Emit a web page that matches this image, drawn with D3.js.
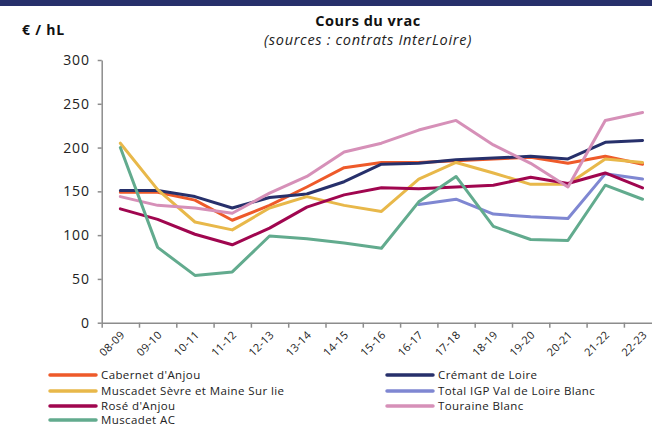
<!DOCTYPE html>
<html>
<head>
<meta charset="utf-8">
<script src="https://cdn.jsdelivr.net/npm/d3@7"></script>
<style>
  body { margin: 0; background: #fff; }
  svg { display: block; font-family: "Open Sans", sans-serif; }
</style>
</head>
<body>
<svg id="chart"></svg>
<script>
// categories (campaigns)
var campaigns = ["08-09","09-10","10-11","11-12","12-13","13-14","14-15","15-16","16-17","17-18","18-19","19-20","20-21","21-22","22-23"];

// series values, €/hL
var cabernetAnjou   = [149, 149, 140, 117, 134, 155, 177, 183, 183, 185, 187, 189, 182, 190, 181];
var cremantLoire    = [151, 151, 144, 131, 143, 147, 161, 181, 182, 186, 188, 190, 187, 206, 208];
var muscadetSevre   = [205, 152, 115, 106, 131, 144, 134, 127, 164, 183, 171, 158, 158, 187, 183];
var totalIgpBlanc   = [null, null, null, null, null, null, null, null, 135, 141, 124, 121, 119, 170, 164];
var roseAnjou       = [130, 118, 101, 89, 108, 132, 146, 154, 153, 155, 157, 166, 159, 171, 154];
var touraineBlanc   = [144, 134, 131, 125, 148, 167, 195, 205, 220, 231, 203, 182, 155, 231, 240];
var muscadetAC      = [200, 86, 54, 58, 99, 96, 91, 85, 138, 167, 110, 95, 94, 157, 141];

var seriesNames  = ["Cabernet d'Anjou", "Crémant de Loire", "Muscadet Sèvre et Maine Sur lie", "Total IGP Val de Loire Blanc", "Rosé d'Anjou", "Touraine Blanc", "Muscadet AC"];
var seriesValues = [cabernetAnjou, cremantLoire, muscadetSevre, totalIgpBlanc, roseAnjou, touraineBlanc, muscadetAC];
var seriesColors = ["#ee5a2a", "#27306b", "#e8b84a", "#7f87d2", "#a0064f", "#d690b8", "#62ab8e"];

var yTicks = [0, 50, 100, 150, 200, 250, 300];

var width = 652, height = 428;
var plot = { left: 101.7, right: 661.2, top: 60, bottom: 322.7 };

var svg = d3.select("#chart")
  .attr("width", width)
  .attr("height", height);

// top banner
svg.append("rect")
  .attr("x", 0).attr("y", 0)
  .attr("width", width).attr("height", 6)
  .attr("fill", "#27306b");

// titles
svg.append("text")
  .attr("x", 368).attr("y", 26)
  .attr("text-anchor", "middle")
  .attr("font-weight", "bold")
  .attr("font-size", 14.5)
  .attr("letter-spacing", 0.5)
  .attr("fill", "#111")
  .text("Cours du vrac");

svg.append("text")
  .attr("x", 368).attr("y", 45)
  .attr("text-anchor", "middle")
  .attr("font-style", "italic")
  .attr("font-size", 14.5)
  .attr("letter-spacing", 0.7)
  .attr("fill", "#222")
  .text("(sources : contrats InterLoire)");

svg.append("text")
  .attr("x", 22).attr("y", 35)
  .attr("font-weight", "bold")
  .attr("font-size", 14)
  .attr("letter-spacing", 0.8)
  .attr("fill", "#111")
  .text("€ / hL");

// scales
var x = d3.scaleBand()
  .domain(campaigns)
  .range([plot.left, plot.right])
  .padding(0);

var xEdges = d3.scaleLinear()
  .domain([0, campaigns.length])
  .range([plot.left, plot.right]);

var y = d3.scaleLinear()
  .domain([0, 300])
  .range([plot.bottom, plot.top]);

// y axis
var yAxis = svg.append("g")
  .attr("transform", "translate(" + plot.left + ",0)")
  .call(d3.axisLeft(y).tickValues(yTicks).tickSize(4).tickPadding(8).tickSizeOuter(0));
yAxis.select(".domain").attr("stroke", "#8c8c8c").attr("stroke-width", 1.5);
yAxis.selectAll(".tick line").attr("stroke", "#8c8c8c").attr("stroke-width", 1.5);
yAxis.selectAll(".tick text")
  .attr("font-size", 14)
  .attr("letter-spacing", 0.8)
  .attr("fill", "#222")
  .attr("font-family", "'Open Sans', sans-serif");

// x axis: tick marks at band edges
var xAxis = svg.append("g")
  .attr("transform", "translate(0," + plot.bottom + ")")
  .call(d3.axisBottom(xEdges).ticks(campaigns.length).tickFormat("").tickSize(5).tickSizeOuter(0));
xAxis.select(".domain").attr("stroke", "#8c8c8c").attr("stroke-width", 1.5);
xAxis.selectAll(".tick line").attr("stroke", "#8c8c8c").attr("stroke-width", 1.5);

// x labels centred on bands, rotated
var xLabels = svg.append("g")
  .attr("transform", "translate(0," + plot.bottom + ")")
  .call(d3.axisBottom(x).tickSize(0).tickPadding(0));
xLabels.select(".domain").remove();
xLabels.selectAll(".tick text")
  .attr("font-size", 11)
  .attr("letter-spacing", 0.3)
  .attr("fill", "#222")
  .attr("font-family", "'Open Sans', sans-serif")
  .attr("text-anchor", "end")
  .attr("dy", null)
  .attr("y", 0)
  .attr("transform", "translate(5,13) rotate(-45)");

// lines
var line = d3.line()
  .defined(function(d) { return d != null; })
  .x(function(d, i) { return x(campaigns[i]) + x.bandwidth() / 2; })
  .y(function(d) { return y(d); });

svg.append("g")
  .selectAll("path")
  .data(seriesValues)
  .join("path")
    .attr("d", line)
    .attr("fill", "none")
    .attr("stroke", function(d, i) { return seriesColors[i]; })
    .attr("stroke-width", 3)
    .attr("stroke-linejoin", "round")
    .attr("stroke-linecap", "round");

// legend, two columns filled row by row
var legendX = [50, 387];
var legendY = [375, 391, 406, 420];

var legend = svg.append("g")
  .selectAll("g")
  .data(seriesNames)
  .join("g")
    .attr("transform", function(d, i) {
      return "translate(" + legendX[i % 2] + "," + legendY[Math.floor(i / 2)] + ")";
    });

legend.append("line")
  .attr("x1", 0).attr("x2", 46)
  .attr("y1", 0).attr("y2", 0)
  .attr("stroke", function(d, i) { return seriesColors[i]; })
  .attr("stroke-width", 3.5)
  .attr("stroke-linecap", "round");

legend.append("text")
  .attr("x", 51)
  .attr("y", 4.2)
  .attr("font-size", 11.5)
  .attr("letter-spacing", 0.4)
  .attr("fill", "#222")
  .text(function(d) { return d; });
</script>
</body>
</html>
